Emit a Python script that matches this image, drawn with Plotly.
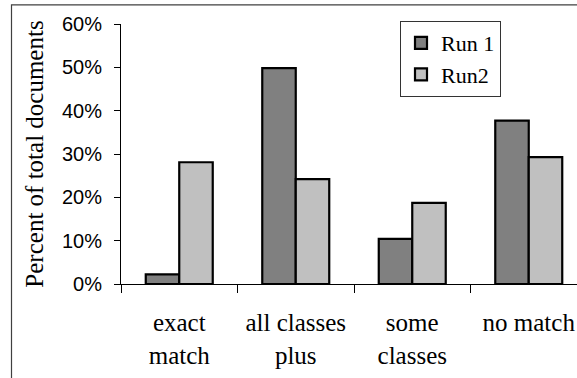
import plotly.graph_objects as go

categories = ["exact<br>match", "all classes<br>plus", "some<br>classes", "no match"]
run1 = [0.022, 0.498, 0.104, 0.377]
run2 = [0.281, 0.242, 0.187, 0.293]
y_ticks = [0, 0.1, 0.2, 0.3, 0.4, 0.5, 0.6]
y_tick_labels = ["0%", "10%", "20%", "30%", "40%", "50%", "60%"]

W, H = 577, 378
L, T, B = 121, 23.7, 284
SERIF = "Liberation Serif, Times New Roman, serif"
SANS = "Liberation Sans, Arial, sans-serif"

fig = go.Figure()
fig.add_trace(go.Bar(name="Run 1", x=categories, y=run1,
                     marker=dict(color="#808080", line=dict(color="black", width=2.2))))
fig.add_trace(go.Bar(name="Run2", x=categories, y=run2,
                     marker=dict(color="#C0C0C0", line=dict(color="black", width=2.2))))

cat_px = 116.5
xr_max = -0.5 + (W - L) / cat_px

fig.update_layout(
    width=W, height=H,
    margin=dict(l=L, r=0, t=T, b=H - B, pad=0, autoexpand=False),
    paper_bgcolor="white", plot_bgcolor="white",
    barmode="group", bargap=0.425, bargroupgap=0,
    showlegend=True,
    legend=dict(xref="container", yref="container",
                x=400 / W, y=1 - 21 / H, xanchor="left", yanchor="top",
                bordercolor="#333333", borderwidth=1, bgcolor="white",
                font=dict(family=SERIF, size=22, color="black"),
                tracegroupgap=0, itemwidth=30),
    xaxis=dict(range=[-0.5, xr_max], showline=True, linecolor="black", linewidth=1,
               ticks="outside", tickson="boundaries", ticklen=8, tickcolor="black",
               tickfont=dict(family=SERIF, size=25, color="black"),
               showgrid=False, zeroline=False, ticklabelstandoff=16, automargin=False),
    yaxis=dict(range=[0, 0.6], tickvals=y_ticks, ticktext=y_tick_labels,
               showline=True, linecolor="black", linewidth=1,
               ticks="outside", ticklen=6, tickcolor="black",
               tickfont=dict(family=SANS, size=20, color="black"),
               showgrid=False, zeroline=False, ticklabelstandoff=8, automargin=False,
               title=dict(text="Percent of total documents",
                          font=dict(family=SERIF, size=25, color="black"),
                          standoff=11)),
    shapes=[dict(type="rect", xref="paper", yref="paper",
                 x0=(11.5 - L) / (W - L), x1=1.05, y0=-0.5, y1=(B - 4.5) / (B - T),
                 line=dict(color="#404040", width=1.2), fillcolor="rgba(0,0,0,0)", layer="below")],
)

fig.write_html("out.html", config={"displayModeBar": False},
               post_script="document.body.style.margin='0';document.body.style.overflow='hidden';")
